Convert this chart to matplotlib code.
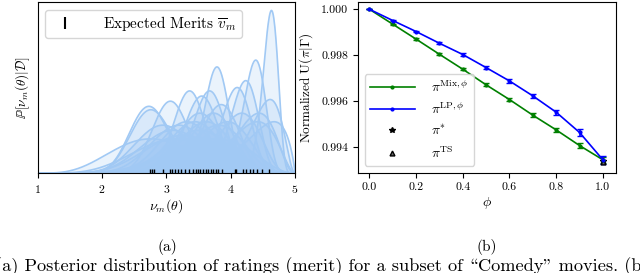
import numpy as np
import matplotlib
matplotlib.use('Agg')
import matplotlib.pyplot as plt
from matplotlib.lines import Line2D

plt.rcParams['font.family'] = ['cmr10', 'DejaVu Serif']
plt.rcParams['mathtext.fontset'] = 'cm'
plt.rcParams['axes.formatter.use_mathtext'] = True
plt.rcParams['axes.unicode_minus'] = False

# (a) expected merits of the movies and the peak height of each posterior (axes fraction)
merits = [2.74, 2.77, 2.80, 2.95, 3.06, 3.09, 3.13, 3.18, 3.22, 3.29, 3.35, 3.41,
          3.46, 3.49, 3.53, 3.57, 3.61, 3.65, 3.69, 3.73, 3.77, 3.81, 3.86, 4.06,
          4.08, 4.19, 4.24, 4.30, 4.35, 4.41, 4.48, 4.60]
peaks = [0.39, 0.37, 0.20, 0.28, 0.42, 0.25, 0.20, 0.28, 0.22, 0.30, 0.48, 0.30,
         0.25, 0.35, 0.45, 0.30, 0.20, 0.48, 0.35, 0.28, 0.62, 0.40, 0.30, 0.50,
         0.35, 0.54, 0.30, 0.35, 0.66, 0.30, 0.43, 0.95]

# (b) normalized utility vs phi
phi = [0.0, 0.1, 0.2, 0.3, 0.4, 0.5, 0.6, 0.7, 0.8, 0.9, 1.0]
u_mix = [1.0, 0.99935, 0.9987, 0.99804, 0.99739, 0.99671, 0.99607, 0.99539, 0.99475, 0.99407, 0.99345]
u_mix_err = [0.0, 0.00002, 0.00003, 0.00004, 0.00005, 0.00006, 0.00007, 0.00008, 0.00009, 0.0001, 0.00012]
u_lp = [1.0, 0.99951, 0.99903, 0.99852, 0.99803, 0.99746, 0.99688, 0.99623, 0.99552, 0.99464, 0.99345]
u_lp_err = [0.0, 0.00002, 0.00003, 0.00004, 0.00005, 0.00006, 0.00007, 0.00009, 0.00011, 0.00014, 0.00017]
u_star = 0.99338
u_ts = 0.99334

fig = plt.figure(figsize=(6.4, 2.73), dpi=100)
ax1 = fig.add_axes([0.059, 0.366, 0.402, 0.627])
ax2 = fig.add_axes([0.559, 0.366, 0.403, 0.627])

# Beta-shaped posteriors on [1, 5], scaled to the read peak heights
pastel = '#a1c9f4'
grid = np.linspace(1.0005, 4.9995, 500)
t = (grid - 1) / 4
for m, h in zip(merits, peaks):
    mu = (m - 1) / 4
    s = 0.115 / h / 4
    k = mu * (1 - mu) / s ** 2 - 1
    a, b = mu * k, (1 - mu) * k
    logp = (a - 1) * np.log(t) + (b - 1) * np.log(1 - t)
    dens = h * np.exp(logp - logp.max())
    ax1.fill_between(grid, dens, color=pastel, alpha=0.22, lw=0)
    ax1.plot(grid, dens, color=pastel, lw=1.2)

ax1.vlines(merits, 0, 0.025, color='black', lw=1.0, transform=ax1.get_xaxis_transform())
ax1.set_xlim(1, 5)
ax1.set_ylim(0, 1.0)
ax1.set_yticks([])
ax1.set_xticks([1, 2, 3, 4, 5])
ax1.tick_params(labelsize=8.5)
ax1.set_xlabel(r'$\nu_m(\theta)$', fontsize=10, labelpad=2)
ax1.set_ylabel(r'$\mathbb{P}[\nu_m(\theta)|\mathcal{D}]$', fontsize=9.5)
h1 = [Line2D([], [], marker='|', color='black', ls='none', ms=8, mew=1.5)]
ax1.legend(h1, [r'Expected Merits $\overline{v}_m$'], loc='upper left', fontsize=11,
           handletextpad=1.5, borderpad=0.3)

# utility curves
ax2.errorbar(phi, u_mix, yerr=u_mix_err, color='green', marker='.', ms=4, capsize=2, lw=1.2)
ax2.errorbar(phi, u_lp, yerr=u_lp_err, color='blue', marker='.', ms=4, capsize=2, lw=1.2)
ax2.plot([1.0], [u_star], '*', color='black', ms=4, ls='none')
ax2.plot([1.0], [u_ts], '^', color='black', mfc='0.4', ms=3.5, ls='none')
ax2.set_xlim(-0.05, 1.055)
ax2.set_ylim(0.99287, 1.00032)
ax2.set_xticks([0.0, 0.2, 0.4, 0.6, 0.8, 1.0])
ax2.set_xticklabels(['0.0', '0.2', '0.4', '0.6', '0.8', '1.0'])
ax2.set_yticks([0.994, 0.996, 0.998, 1.000])
ax2.set_yticklabels(['0.994', '0.996', '0.998', '1.000'])
ax2.tick_params(labelsize=8.5)
ax2.set_xlabel(r'$\phi$', fontsize=10, labelpad=2)
ax2.set_ylabel(r'Normalized U($\pi|\Gamma$)', fontsize=9.5)
h2 = [Line2D([], [], color='green', marker='.', ms=4, lw=1.2),
      Line2D([], [], color='blue', marker='.', ms=4, lw=1.2),
      Line2D([], [], color='black', marker='*', ms=4, ls='none'),
      Line2D([], [], color='black', marker='^', mfc='0.4', ms=3.5, ls='none')]
l2 = [r'$\pi^{\mathrm{Mix},\phi}$', r'$\pi^{\mathrm{LP},\phi}$', r'$\pi^{*}$', r'$\pi^{\mathrm{TS}}$']
ax2.legend(h2, l2, loc='lower left', fontsize=10, handlelength=3.2, handletextpad=1.2)

# sub-captions
fig.text(167 / 640, 1 - 247 / 273, '(a)', ha='center', va='center', fontsize=11)
fig.text(487 / 640, 1 - 247 / 273, '(b)', ha='center', va='center', fontsize=11)
fig.text(-5 / 640, 1 - 271.5 / 273,
         '(a) Posterior distribution of ratings (merit) for a subset of \\Comedy" movies. (b)',
         ha='left', va='baseline', fontsize=13.2)

fig.savefig('out.png', dpi=100)
